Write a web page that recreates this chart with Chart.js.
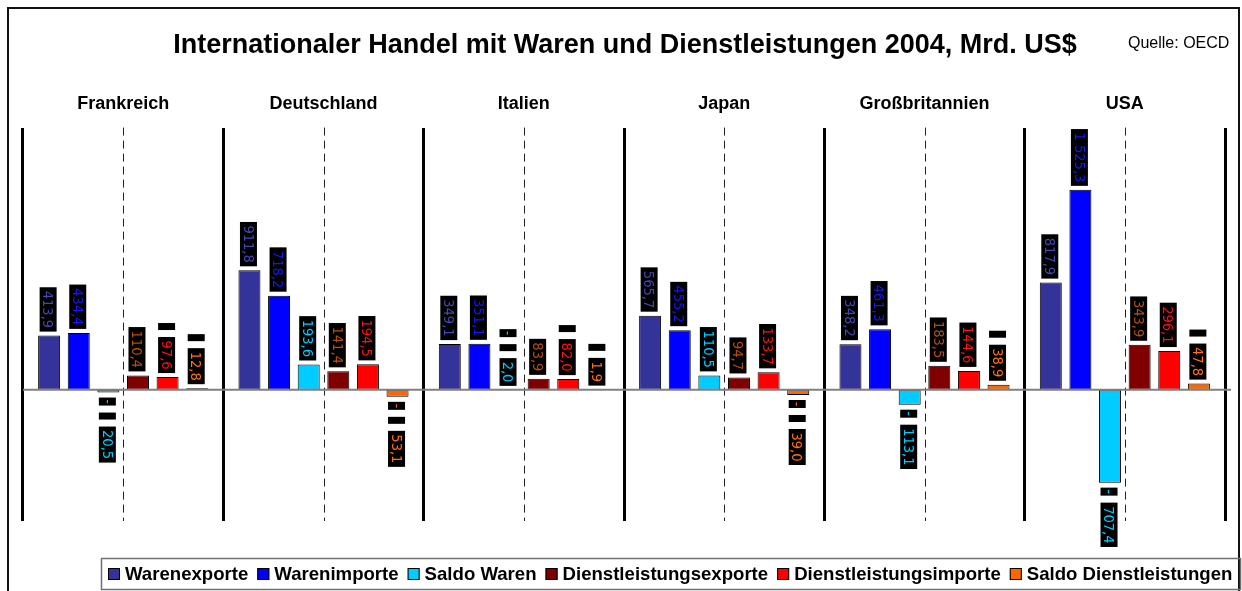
<!DOCTYPE html>
<html><head><meta charset="utf-8">
<script src="https://cdn.jsdelivr.net/npm/chart.js@4.4.1/dist/chart.umd.min.js"></script>
<style>html,body{margin:0;padding:0;background:#fff;overflow:hidden;}</style>
</head><body>
<canvas id="c" width="1242" height="591"></canvas>
<script>
// ---- Data ----
const countries = ['Frankreich', 'Deutschland', 'Italien', 'Japan', 'Großbritannien', 'USA'];
const seriesNames = ['Warenexporte', 'Warenimporte', 'Saldo Waren', 'Dienstleistungsexporte', 'Dienstleistungsimporte', 'Saldo Dienstleistungen'];
const warenexporte = [413.9, 911.8, 349.1, 565.7, 348.2, 817.9];
const warenimporte = [434.4, 718.2, 351.1, 455.2, 461.3, 1525.3];
const saldoWaren = [-20.5, 193.6, -2.0, 110.5, -113.1, -707.4];
const dienstExporte = [110.4, 141.4, 83.9, 94.7, 183.5, 343.9];
const dienstImporte = [97.6, 194.5, 82.0, 133.7, 144.6, 296.1];
const saldoDienst = [12.8, -53.1, 1.9, -39.0, 38.9, 47.8];
const yMin = -1000, yMax = 2000;

const seriesValues = [warenexporte, warenimporte, saldoWaren, dienstExporte, dienstImporte, saldoDienst];
const barColors = ['#333399', '#0000FF', '#00CCFF', '#800000', '#FF0000', '#FF6600'];
const labelColors = ['#4646B4', '#1515FF', '#00CCFF', '#B4500A', '#FF1010', '#FF7010'];
const padSmall = [false, false, true, false, true, true];

const FONT = '"Liberation Sans", Arial, sans-serif';
const LABEL_FONT = '14.5px "DejaVu Sans Condensed", "DejaVu Sans", sans-serif';

function fmt(v) {
  const s = Math.abs(v).toFixed(1);
  const [i, d] = s.split('.');
  return i.replace(/\B(?=(\d{3})+(?!\d))/g, ' ') + ',' + d;
}

const datasets = seriesNames.map((name, k) => ({
  label: name,
  data: seriesValues[k],
  backgroundColor: barColors[k],
  borderColor: '#000',
  borderWidth: 1,
  borderSkipped: false,
  categoryPercentage: 0.887,
  barPercentage: 0.743,
  labelColor: labelColors[k],
  padSmall: padSmall[k]
}));

const decor = {
  id: 'decor',
  beforeDraw(chart) {
    const ctx = chart.ctx;
    ctx.save();
    ctx.fillStyle = '#fff';
    ctx.fillRect(0, 0, chart.width, chart.height);
    ctx.strokeStyle = '#111';
    ctx.lineWidth = 2;
    ctx.strokeRect(8, 8, 1231, 700);
    ctx.fillStyle = '#000';
    ctx.font = 'bold 27px ' + FONT;
    ctx.textAlign = 'center';
    ctx.textBaseline = 'alphabetic';
    ctx.fillText('Internationaler Handel mit Waren und Dienstleistungen 2004, Mrd. US$', 625, 53);
    ctx.font = '16px ' + FONT;
    ctx.textAlign = 'left';
    ctx.fillText('Quelle: OECD', 1128, 48);
    ctx.restore();
  },
  beforeDatasetsDraw(chart) {
    const ctx = chart.ctx, a = chart.chartArea, xs = chart.scales.x;
    ctx.save();
    ctx.strokeStyle = '#222';
    ctx.lineWidth = 1;
    ctx.setLineDash([8, 5]);
    countries.forEach((c, i) => {
      const x = Math.round(xs.getPixelForValue(i)) + 0.5;
      ctx.beginPath(); ctx.moveTo(x, a.top); ctx.lineTo(x, a.bottom); ctx.stroke();
    });
    ctx.restore();
  },
  afterDatasetsDraw(chart) {
    const ctx = chart.ctx, a = chart.chartArea;
    const y0 = chart.scales.y.getPixelForValue(0);
    ctx.save();
    ctx.strokeStyle = '#808080';
    ctx.lineWidth = 2;
    ctx.beginPath(); ctx.moveTo(a.left, y0); ctx.lineTo(a.right + 6, y0); ctx.stroke();
    ctx.restore();

    const PAD = 3.5, GAP = 7, W = 17;
    chart.data.datasets.forEach((ds, di) => {
      const meta = chart.getDatasetMeta(di);
      meta.data.forEach((el, i) => {
        const v = ds.data[i];
        ctx.save();
        ctx.font = LABEL_FONT;
        const txt = fmt(v);
        const tw = ctx.measureText(txt).width;
        const segs = [];
        if (v < 0) segs.push({ len: 8, text: '-' });
        if (ds.padSmall && Math.abs(v) < 100) segs.push({ len: 7, text: '' });
        segs.push({ len: tw + 2 * PAD, text: txt });
        const L = segs.reduce((s, g) => s + g.len, 0) + GAP * (segs.length - 1);
        const top = Math.min(el.y, el.base), bottom = Math.max(el.y, el.base);
        const start = (v >= 0 || Math.abs(v) < 5) ? top - 4 - L : bottom + 5;
        ctx.translate(el.x - 1, start);
        ctx.rotate(Math.PI / 2);
        let pos = 0;
        segs.forEach(s => {
          ctx.fillStyle = '#000';
          ctx.fillRect(pos, -W / 2, s.len, W);
          if (s.text) {
            ctx.fillStyle = ds.labelColor;
            ctx.textAlign = 'center';
            ctx.textBaseline = 'middle';
            ctx.fillText(s.text, pos + s.len / 2, 1);
          }
          pos += s.len + GAP;
        });
        ctx.restore();
      });
    });
  },
  afterDraw(chart) {
    const ctx = chart.ctx;
    ctx.save();
    ctx.font = 'bold 18.6px ' + FONT;
    const MARK = 12, MG = 5, IG = 9;
    const items = chart.data.datasets.map(d => ({ label: d.label, color: d.backgroundColor, w: ctx.measureText(d.label).width }));
    const content = items.reduce((s, it) => s + MARK + MG + it.w, 0) + IG * (items.length - 1);
    const right = 1240, boxL = Math.round(right - content - 15);
    ctx.strokeStyle = '#707070';
    ctx.lineWidth = 1.5;
    ctx.strokeRect(boxL + 0.5, 558.5, right - boxL, 31);
    let x = boxL + 7;
    items.forEach(it => {
      ctx.fillStyle = it.color;
      ctx.fillRect(x, 568, MARK, MARK);
      ctx.strokeStyle = '#000'; ctx.lineWidth = 1;
      ctx.strokeRect(x + 0.5, 568.5, MARK - 1, MARK - 1);
      ctx.fillStyle = '#000';
      ctx.textAlign = 'left'; ctx.textBaseline = 'alphabetic';
      ctx.fillText(it.label, x + MARK + MG, 580);
      x += MARK + MG + it.w + IG;
    });
    ctx.restore();
  }
};

new Chart(document.getElementById('c'), {
  type: 'bar',
  data: { labels: countries, datasets },
  options: {
    responsive: false,
    animation: false,
    devicePixelRatio: 1,
    layout: { padding: { left: 23, right: 17, top: 80, bottom: 70 } },
    plugins: { legend: { display: false }, title: { display: false }, tooltip: { enabled: false } },
    scales: {
      x: {
        position: 'top',
        offset: true,
        border: { display: false },
        grid: { offset: true, color: '#000', lineWidth: 3, drawTicks: false },
        ticks: { color: '#000', padding: 13, font: { family: FONT, size: 18, weight: 'bold' } }
      },
      y: { display: false, min: yMin, max: yMax }
    }
  },
  plugins: [decor]
});
</script>
</body></html>
